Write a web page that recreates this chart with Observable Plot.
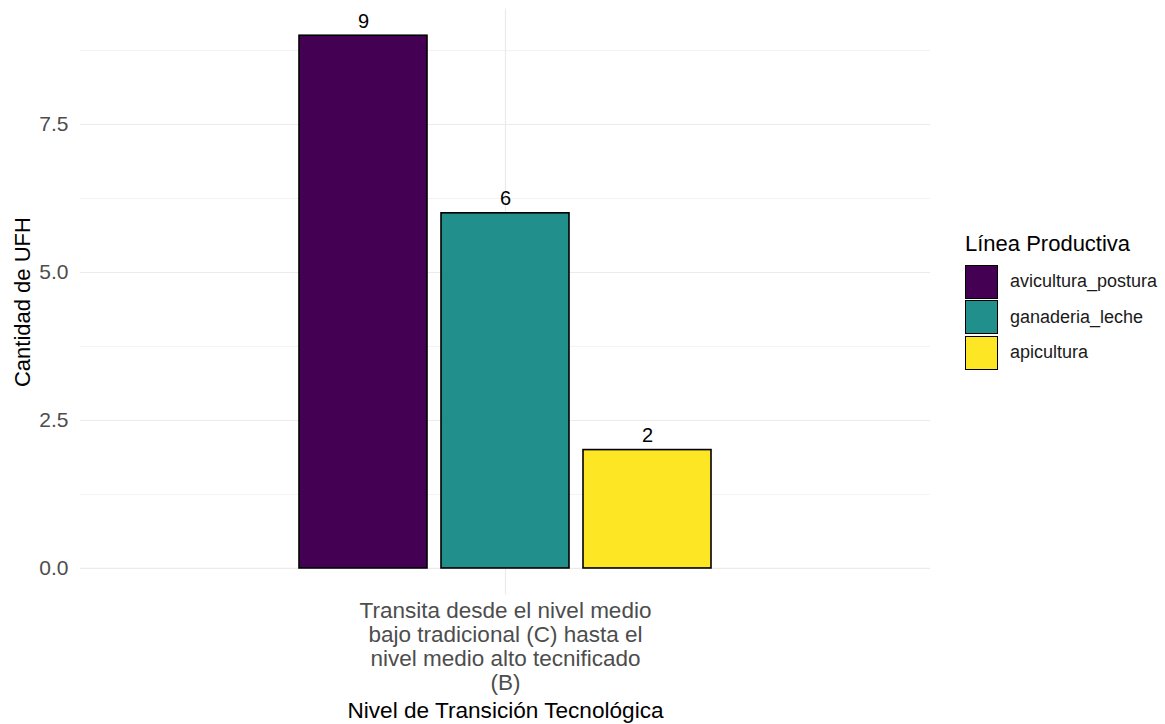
<!DOCTYPE html>
<html>
<head>
<meta charset="utf-8">
<script src="https://cdn.jsdelivr.net/npm/d3@7"></script>
<script src="https://cdn.jsdelivr.net/npm/@observablehq/plot@0.6"></script>
<style>
  html, body { margin: 0; padding: 0; background: #fff; }
  #wrap { position: relative; width: 1165px; height: 724px; font-family: "Liberation Sans", Arial, sans-serif; }
  #legend { position: absolute; left: 965px; top: 231px; }
  #legend .title { font-size: 22px; color: #000; margin-bottom: 7px; }
  #legend .item { display: flex; align-items: center; height: 35.5px; }
  #legend .key { width: 31px; height: 32px; border: 1.6px solid #000; box-sizing: content-box; }
  #legend .lab { margin-left: 12px; font-size: 18px; color: #1a1a1a; }
</style>
</head>
<body>
<div id="wrap"><div id="legend"></div></div>
<script>
const category = "Transita desde el nivel medio\nbajo tradicional (C) hasta el\nnivel medio alto tecnificado\n(B)";
const series = ["avicultura_postura", "ganaderia_leche", "apicultura"];
const values = [9, 6, 2];
const colors = ["#440154", "#21908C", "#FDE725"];
const yTicks = [0, 2.5, 5, 7.5];
const yMinor = [1.25, 3.75, 6.25, 8.75];
const xTitle = "Nivel de Transición Tecnológica";
const yTitle = "Cantidad de UFH";
const legendTitle = "Línea Productiva";

const data = series.map((s, i) => ({serie: s, n: values[i]}));

const chart = Plot.plot({
  width: 1165,
  height: 724,
  marginLeft: 80,
  marginRight: 235,
  marginTop: 8.6,
  marginBottom: 129.4,
  style: {fontFamily: "'Liberation Sans', Arial, sans-serif", background: "#fff"},
  x: {domain: series, paddingInner: 0.1, paddingOuter: 1.54, axis: null},
  y: {domain: [-0.45, 9.45], axis: null},
  color: {domain: series, range: colors},
  marks: [
    Plot.ruleY(yMinor, {stroke: "#ebebeb", strokeWidth: 0.6}),
    Plot.ruleY(yTicks, {stroke: "#ebebeb", strokeWidth: 1.2}),
    Plot.ruleX([series[1]], {stroke: "#ebebeb", strokeWidth: 1.2}),
    Plot.barY(data, {x: "serie", y: "n", fill: "serie", stroke: "#000", strokeWidth: 1.6}),
    Plot.text(data, {x: "serie", y: "n", text: d => String(d.n), lineAnchor: "bottom", dy: -8, fontSize: 20, fill: "#000"}),
    Plot.text(yTicks, {y: d => d, frameAnchor: "left", dx: -12, textAnchor: "end", text: d3.format(".1f"), fontSize: 21, fill: "#4d4d4d"}),
    Plot.text([category], {x: () => series[1], frameAnchor: "bottom", lineAnchor: "top", dy: 6, textAnchor: "middle", text: d => d, fontSize: 22.5, lineHeight: 1.07, fill: "#4d4d4d"}),
    Plot.text([xTitle], {frameAnchor: "bottom", lineAnchor: "bottom", dy: 123, textAnchor: "middle", text: d => d, fontSize: 22.6, fill: "#000"}),
    Plot.text([yTitle], {frameAnchor: "left", dx: -58, rotate: -90, textAnchor: "middle", text: d => d, fontSize: 22, fill: "#000"})
  ]
});
document.getElementById("wrap").prepend(chart);

const legend = document.getElementById("legend");
const t = document.createElement("div");
t.className = "title"; t.textContent = legendTitle;
legend.appendChild(t);
series.forEach((s, i) => {
  const item = document.createElement("div"); item.className = "item";
  const k = document.createElement("div"); k.className = "key"; k.style.background = colors[i];
  const l = document.createElement("div"); l.className = "lab"; l.textContent = s;
  item.appendChild(k); item.appendChild(l); legend.appendChild(item);
});
</script>
</body>
</html>
